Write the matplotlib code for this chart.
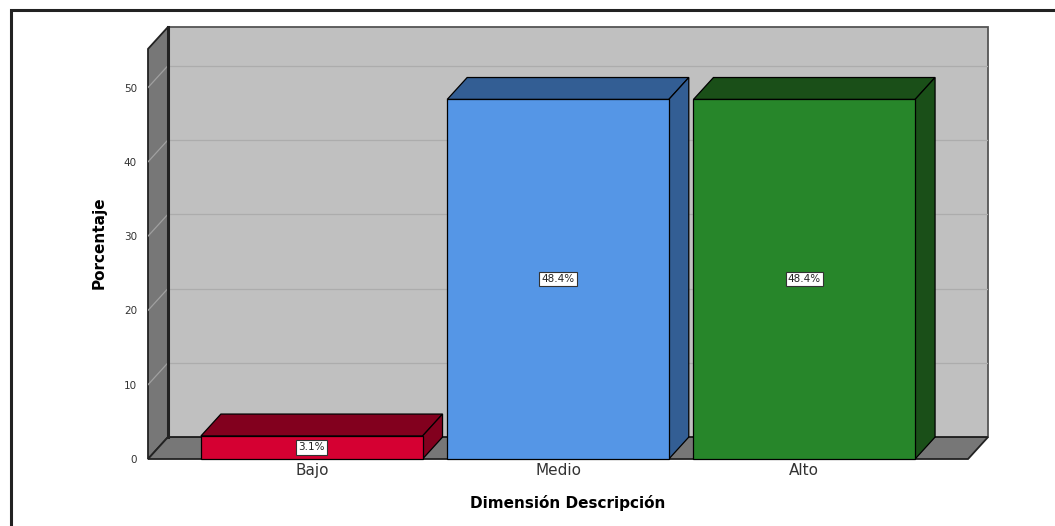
import matplotlib
matplotlib.use("Agg")
import matplotlib.pyplot as plt
from matplotlib.patches import Polygon, Rectangle

categories = ["Bajo", "Medio", "Alto"]
percentages = [3.1, 48.4, 48.4]
bar_labels = ["3.1%", "48.4%", "48.4%"]
yticks = [0, 10, 20, 30, 40, 50]

front_colors = ["#d50032", "#5596e6", "#27862a"]
shade_colors = ["#82001e", "#335e94", "#1a4f18"]

# 3D look: depth offset in data units
width = 0.9
pad = 0.215
dx = 0.081
dy = 2.95
ymax = 55.2

x0 = -width / 2 - pad
x1 = len(categories) - 1 + width / 2 + pad

fig = plt.figure(figsize=(10.55, 5.26), dpi=100)
ax = fig.add_axes([148 / 1055, 1 - 459 / 526, 840 / 1055, 432 / 526])
ax.set_xlim(x0, x1 + dx)
ax.set_ylim(0, ymax + dy)
for s in ax.spines.values():
    s.set_visible(False)
ax.patch.set_alpha(0)

# back wall, side wall, floor
ax.add_patch(Rectangle((x0 + dx, dy), x1 - x0, ymax, facecolor="#c0c0c0",
                       edgecolor="#555555", lw=1.3, zorder=1, clip_on=False))
ax.add_patch(Polygon([(x0, 0), (x0, ymax), (x0 + dx, ymax + dy), (x0 + dx, dy)],
                     closed=True, facecolor="#777777", edgecolor="#222222", lw=1.3,
                     zorder=1, clip_on=False))
ax.add_patch(Polygon([(x0, 0), (x1, 0), (x1 + dx, dy), (x0 + dx, dy)],
                     closed=True, facecolor="#777777", edgecolor="#222222", lw=1.3,
                     zorder=1, clip_on=False))
ax.plot([x0 + dx, x0 + dx], [dy, ymax + dy], color="#222222", lw=2.2, zorder=3,
        clip_on=False)

for t in yticks[1:]:
    ax.plot([x0 + dx, x1 + dx], [t + dy, t + dy], color="#acacac", lw=0.9, zorder=2)
    ax.plot([x0, x0 + dx], [t, t + dy], color="#a0a0a0", lw=0.9, zorder=2)

for i, (v, fc, sc, lab) in enumerate(zip(percentages, front_colors, shade_colors, bar_labels)):
    l, r = i - width / 2, i + width / 2
    ax.add_patch(Polygon([(l, v), (l + dx, v + dy), (r + dx, v + dy), (r, v)],
                         closed=True, facecolor=sc, edgecolor="black", lw=0.9, zorder=4))
    ax.add_patch(Polygon([(r, 0), (r + dx, dy), (r + dx, v + dy), (r, v)],
                         closed=True, facecolor=sc, edgecolor="black", lw=0.9, zorder=4))
    ax.add_patch(Rectangle((l, 0), width, v, facecolor=fc, edgecolor="black",
                           lw=0.9, zorder=5, clip_on=False))
    ax.text(i, v / 2, lab, ha="center", va="center", fontsize=7.5, color="#222222",
            zorder=6, bbox=dict(boxstyle="square,pad=0.2", facecolor="white",
                                edgecolor="#333333", lw=0.8))

ax.set_yticks(yticks)
ax.set_yticklabels([str(t) for t in yticks], fontsize=7.5, color="#333333")
ax.set_xticks(range(len(categories)))
ax.set_xticklabels(categories, fontsize=11, color="#333333")
ax.tick_params(axis="y", length=0, pad=8)
ax.tick_params(axis="x", length=0, pad=3)
ax.set_xlabel("Dimensión Descripción", fontsize=11, fontweight="bold", labelpad=12)
ax.set_ylabel("Porcentaje", fontsize=11, fontweight="bold", labelpad=12)

# outer frame
fig.patches.append(Rectangle((11 / 1055, -0.1), 1.2, 1 - 10 / 526 + 0.1,
                             transform=fig.transFigure, fill=False,
                             edgecolor="#222222", lw=2.2))

fig.savefig("out.png", dpi=100)
